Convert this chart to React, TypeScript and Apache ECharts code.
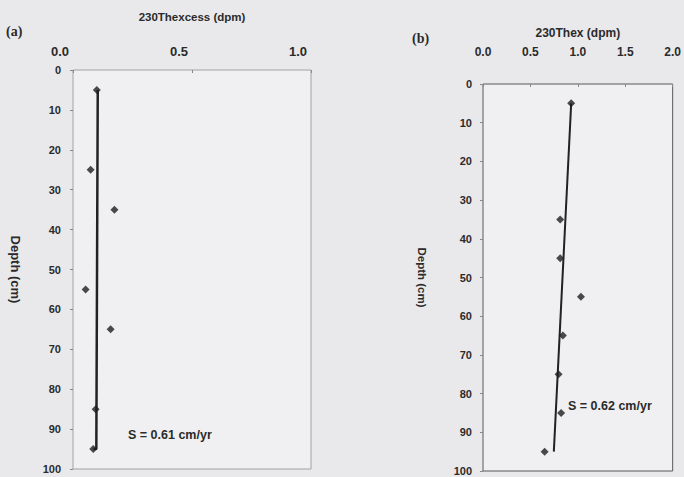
import React, { useEffect, useRef } from "react";
import * as echarts from "echarts";

// Panel (a): 230Th excess vs depth
const depthA = [5, 25, 35, 55, 65, 85, 95];
const valuesA = [0.1, 0.074, 0.174, 0.053, 0.158, 0.095, 0.085];
const fitDepthA = [5, 95, 95];
const fitValuesA = [0.104, 0.098, 0.086];

// Panel (b): 230Th ex vs depth
const depthB = [5, 35, 45, 55, 65, 75, 85, 95];
const valuesB = [0.93, 0.814, 0.814, 1.033, 0.842, 0.797, 0.824, 0.65];
const fitDepthB = [5, 95];
const fitValuesB = [0.93, 0.747];

const depthTicks = [0, 100, 10];
const titleA = "230Thexcess (dpm)";
const titleB = "230Thex (dpm)";
const rateA = "S = 0.61 cm/yr";
const rateB = "S = 0.62 cm/yr";

const FONT = "'Liberation Sans', Arial, sans-serif";
const SERIF = "'Liberation Serif', 'DejaVu Serif', serif";
const INK = "#2b2b2b";

export default function App() {
  const ref = useRef<HTMLDivElement>(null);
  useEffect(() => {
    if (!ref.current) return;
    const chart = echarts.init(ref.current, null, { renderer: "svg" });
    const pairs = (xs: number[], ys: number[]) => xs.map((x, i) => [x, ys[i]]);
    const yAxisBase = (gridIndex: number, gap: number, fs: number, margin: number) => ({
      type: "value",
      gridIndex,
      inverse: true,
      min: depthTicks[0],
      max: depthTicks[1],
      interval: depthTicks[2],
      name: "Depth (cm)",
      nameLocation: "middle",
      nameRotate: -90,
      nameGap: gap,
      nameTextStyle: { fontFamily: FONT, fontWeight: "bold", fontSize: fs, color: INK },
      axisLine: { show: false },
      axisTick: { show: true, length: 3, lineStyle: { color: "#888" } },
      splitLine: { show: false },
      axisLabel: {
        fontFamily: FONT,
        fontWeight: "bold",
        fontSize: 11,
        color: INK,
        margin,
      },
    });
    chart.setOption({
      animation: false,
      backgroundColor: "#e9e9eb",
      grid: [
        {
          left: 73,
          right: 373,
          top: 70,
          bottom: 8,
          show: true,
          backgroundColor: "#f0f0f2",
          borderColor: "#a2a2a6",
          borderWidth: 1,
        },
        {
          left: 483,
          right: 10,
          top: 84,
          bottom: 6,
          show: true,
          backgroundColor: "#f0f0f2",
          borderColor: "#58585c",
          borderWidth: 1,
        },
      ],
      xAxis: [
        {
          type: "value",
          gridIndex: 0,
          position: "top",
          min: 0,
          max: 1,
          interval: 0.5,
          name: titleA,
          nameLocation: "middle",
          nameGap: 47,
          nameTextStyle: { fontFamily: FONT, fontWeight: "bold", fontSize: 11.5, color: INK },
          axisLine: { show: false },
          axisTick: { show: true, length: 3, inside: true, lineStyle: { color: "#888" } },
          splitLine: { show: false },
          axisLabel: {
            formatter: (v: number) => v.toFixed(1),
            align: "right",
            padding: [0, 4, 0, 0],
            fontFamily: FONT,
            fontWeight: "bold",
            fontSize: 13,
            color: INK,
            margin: 12,
          },
        },
        {
          type: "value",
          gridIndex: 1,
          position: "top",
          min: 0,
          max: 2,
          interval: 0.5,
          name: titleB,
          nameLocation: "middle",
          nameGap: 45,
          nameTextStyle: { fontFamily: FONT, fontWeight: "bold", fontSize: 12, color: INK },
          axisLine: { show: false },
          axisTick: { show: true, length: 3, inside: true, lineStyle: { color: "#888" } },
          splitLine: { show: false },
          axisLabel: {
            formatter: (v: number) => v.toFixed(1),
            fontFamily: FONT,
            fontWeight: "bold",
            fontSize: 12,
            color: INK,
            margin: 26,
          },
        },
      ],
      yAxis: [yAxisBase(0, 51, 13, 12), yAxisBase(1, 55, 11.5, 11)],
      graphic: [
        {
          type: "text",
          left: 6,
          top: 24,
          style: { text: "(a)", font: `bold 14px ${SERIF}`, fill: INK },
        },
        {
          type: "text",
          left: 412,
          top: 31,
          style: { text: "(b)", font: `bold 14px ${SERIF}`, fill: INK },
        },
        {
          type: "text",
          left: 128,
          top: 428,
          style: { text: rateA, font: `bold 12.5px ${FONT}`, fill: INK },
        },
        {
          type: "text",
          left: 568,
          top: 399,
          style: { text: rateB, font: `bold 12.5px ${FONT}`, fill: INK },
        },
      ],
      series: [
        {
          type: "line",
          xAxisIndex: 0,
          yAxisIndex: 0,
          data: pairs(fitValuesA, fitDepthA),
          symbol: "none",
          lineStyle: { color: "#222", width: 2.5 },
          z: 2,
        },
        {
          type: "scatter",
          xAxisIndex: 0,
          yAxisIndex: 0,
          data: pairs(valuesA, depthA),
          symbol: "diamond",
          symbolSize: 8,
          itemStyle: { color: "#1e1e1e" },
          z: 3,
        },
        {
          type: "line",
          xAxisIndex: 1,
          yAxisIndex: 1,
          data: pairs(fitValuesB, fitDepthB),
          symbol: "none",
          lineStyle: { color: "#222", width: 2 },
          z: 2,
        },
        {
          type: "scatter",
          xAxisIndex: 1,
          yAxisIndex: 1,
          data: pairs(valuesB, depthB),
          symbol: "diamond",
          symbolSize: 8,
          itemStyle: { color: "#1e1e1e" },
          z: 3,
        },
      ],
    });
    return () => chart.dispose();
  }, []);
  return (
    <div
      ref={ref}
      style={{ position: "absolute", left: 0, top: 0, width: 684, height: 477 }}
    />
  );
}
